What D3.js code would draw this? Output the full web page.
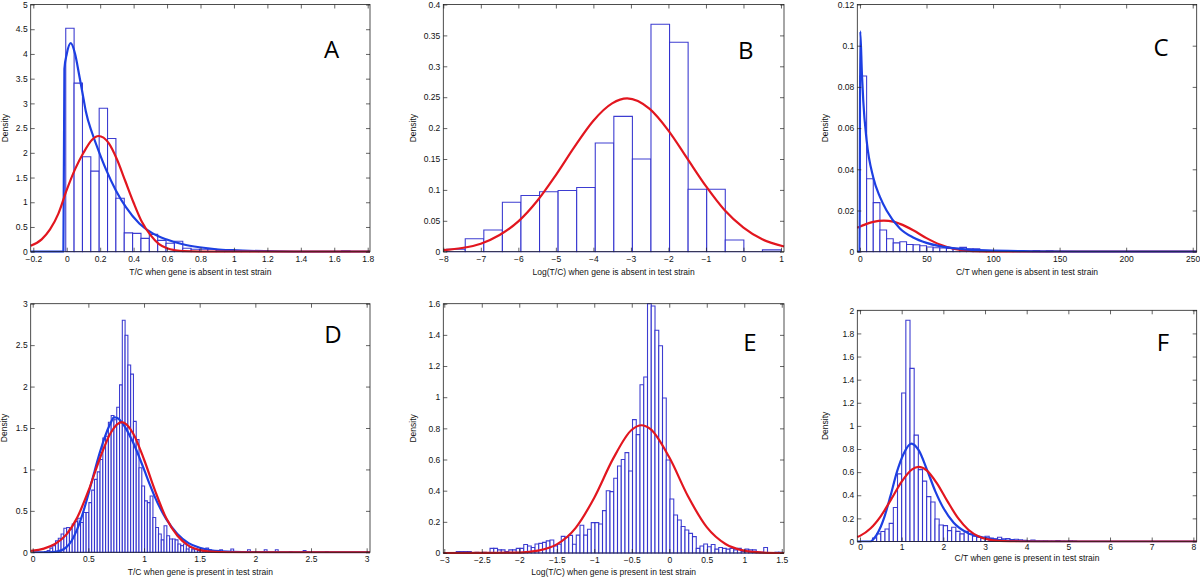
<!DOCTYPE html>
<html lang="en">
<head>
  <meta charset="UTF-8">
  <title>Density histograms with fitted curves</title>
  <script src="https://d3js.org/d3.v7.min.js"></script>
  <style>
    body { margin: 0; background: #fff; }
    svg { display: block; }
    .tick-label, .axis-title { font-family: "Liberation Sans", Arial, Helvetica, sans-serif; font-size: 8.5px; fill: #111; }
    .panel-letter { font-family: "Open Sans", "Liberation Sans", sans-serif; font-size: 24px; fill: #000; }
  </style>
</head>
<body>
  <div id="chart"></div>
  <script>
    // ---- Panel A: T/C, gene absent ----
    const aTicksX = [-0.2, 0, 0.2, 0.4, 0.6, 0.8, 1, 1.2, 1.4, 1.6, 1.8];
    const aTicksY = [0, 0.5, 1, 1.5, 2, 2.5, 3, 3.5, 4, 4.5, 5];
    const aBinStart = -0.006, aBinWidth = 0.05;
    const aHeights = [4.52, 3.41, 1.92, 1.63, 2.90, 2.29, 1.08, 0.38, 0.37, 0.27,
                      0.35, 0.23, 0.17, 0.21, 0.07, 0.05, 0.05, 0.05, 0.02, 0.01,
                      0.01, 0.01, 0.005, 0, 0, 0, 0, 0, 0, 0,
                      0, 0, 0, 0.02];
    const aBlueFit = [[-0.2156, 0], [-0.02, 0], [-0.014, 3.7], [0, 4.0], [0.024, 4.22], [0.05, 4.0],
                      [0.074, 3.58], [0.1, 3.1], [0.114, 2.84], [0.154, 2.38], [0.194, 2.01], [0.234, 1.67],
                      [0.294, 1.24], [0.354, 0.9], [0.434, 0.57], [0.514, 0.37], [0.594, 0.25], [0.694, 0.15],
                      [0.794, 0.09], [0.894, 0.05], [0.994, 0.03], [1.194, 0.01], [1.4, 0.002], [1.8138, 0]];
    const aRedFit = [[-0.2156, 0.12], [-0.15, 0.25], [-0.1, 0.45], [-0.05, 0.77], [0, 1.25], [0.05, 1.67],
                     [0.1, 2.0], [0.15, 2.26], [0.19, 2.34], [0.25, 2.2], [0.3, 1.87], [0.35, 1.43],
                     [0.4, 0.99], [0.45, 0.6], [0.5, 0.34], [0.55, 0.16], [0.6, 0.07], [0.65, 0.03],
                     [0.7, 0.01], [0.8, 0], [1.8138, 0]];

    // ---- Panel B: Log(T/C), gene absent ----
    const bTicksX = [-8, -7, -6, -5, -4, -3, -2, -1, 0, 1];
    const bTicksY = [0, 0.05, 0.1, 0.15, 0.2, 0.25, 0.3, 0.35, 0.4];
    const bBinStart = -7.91, bBinWidth = 0.495;
    const bHeights = [0.004, 0.021, 0.035, 0.080, 0.091, 0.097, 0.099, 0.104, 0.176, 0.219,
                      0.150, 0.368, 0.339, 0.101, 0.101, 0.019, 0, 0.003];
    const bRedFit = [[-8, 0.0025], [-7.5, 0.006], [-7, 0.013], [-6.5, 0.027], [-6, 0.049], [-5.5, 0.082],
                     [-5, 0.124], [-4.5, 0.17], [-4, 0.212], [-3.5, 0.24], [-3.1, 0.248], [-2.5, 0.231],
                     [-2, 0.196], [-1.5, 0.151], [-1, 0.106], [-0.5, 0.067], [0, 0.039], [0.5, 0.02], [1.08, 0.0085]];

    // ---- Panel C: C/T, gene absent ----
    const cTicksX = [0, 50, 100, 150, 200, 250];
    const cTicksY = [0, 0.02, 0.04, 0.06, 0.08, 0.1, 0.12];
    const cBinStart = 0, cBinWidth = 5;
    const cHeights = [0.0853, 0.0354, 0.0238, 0.0105, 0.0063, 0.0043, 0.0048, 0.0035, 0.0034, 0.0029,
                      0.0023, 0.0019, 0.0018, 0.0016, 0.0014, 0.0021, 0.0014, 0.0014, 0.0003, 0.0002,
                      0.0001, 0, 0.0001, 0.0004, 0, 0, 0.0006, 0, 0.0004];
    const cBlueFit = [[-2, 0], [-0.3, 0], [0.2, 0.107], [1.5, 0.086], [2.5, 0.073], [5, 0.054], [10, 0.036],
                      [15, 0.0266], [20, 0.020], [30, 0.0113], [40, 0.0069], [50, 0.0043], [60, 0.0027],
                      [75, 0.0014], [95, 0.0006], [130, 0.0002], [170, 0], [253, 0]];
    const cRedFit = [[-2, 0.0116], [5, 0.0135], [10, 0.0145], [18, 0.0151], [25, 0.0146], [30, 0.0135],
                     [40, 0.0104], [50, 0.0066], [60, 0.0035], [70, 0.0015], [80, 0.0005], [90, 0.0001],
                     [100, 0], [253, 0]];

    // ---- Panel D: T/C, gene present ----
    const dTicksX = [0, 0.5, 1, 1.5, 2, 2.5, 3];
    const dTicksY = [0, 0.5, 1, 1.5, 2, 2.5, 3];
    const dBinStart = 0.105, dBinWidth = 0.025;
    const dHeights = [0.01, 0.02, 0.05, 0.08, 0.14, 0.17, 0.22, 0.29, 0.30, 0.28,
                      0.34, 0.37, 0.41, 0.36, 0.48, 0.48, 0.60, 0.75, 0.88, 0.97,
                      1.12, 1.38, 1.40, 1.57, 1.65, 1.60, 1.75, 2.02, 2.80, 2.62,
                      2.26, 2.15, 1.58, 1.36, 1.02, 0.80, 0.62, 0.60, 0.68, 0.42,
                      0.30, 0.22, 0.15, 0.32, 0.20, 0.16, 0.16, 0.15, 0.10, 0.08,
                      0.10, 0.04, 0.06, 0.03, 0.04, 0.02, 0.03, 0.02, 0.05, 0.03,
                      0.01, 0.01, 0, 0.03, 0.01, 0, 0.005, 0.04, 0, 0,
                      0, 0, 0, 0.03, 0, 0, 0, 0, 0, 0.03,
                      0, 0, 0, 0.03, 0, 0, 0, 0, 0.01, 0,
                      0, 0, 0, 0.02, 0, 0, 0, 0, 0, 0,
                      0, 0.01];
    const dBlueFit = [[0, 0], [0.15, 0], [0.2, 0.005], [0.25, 0.02], [0.3, 0.06], [0.35, 0.14], [0.4, 0.28],
                      [0.45, 0.47], [0.5, 0.7], [0.55, 0.95], [0.6, 1.19], [0.65, 1.4], [0.7, 1.56],
                      [0.73, 1.63], [0.76, 1.62], [0.8, 1.57], [0.9, 1.33], [1.0, 1.0], [1.054, 0.81],
                      [1.1, 0.66], [1.2, 0.40], [1.3, 0.22], [1.4, 0.11], [1.5, 0.055], [1.6, 0.025],
                      [1.7, 0.012], [1.8, 0.005], [2.0, 0.001], [2.2, 0], [3.03, 0]];
    const dRedFit = [[-0.018, 0.018], [0, 0.02], [0.1, 0.045], [0.2, 0.1], [0.3, 0.21], [0.4, 0.42],
                     [0.5, 0.74], [0.6, 1.12], [0.7, 1.44], [0.8, 1.57], [0.9, 1.44], [1.0, 1.12],
                     [1.1, 0.74], [1.2, 0.41], [1.3, 0.2], [1.4, 0.08], [1.5, 0.027], [1.6, 0.008],
                     [1.7, 0.002], [1.8, 0], [3.03, 0]];

    // ---- Panel E: Log(T/C), gene present ----
    const eTicksX = [-3, -2.5, -2, -1.5, -1, -0.5, 0, 0.5, 1, 1.5];
    const eTicksY = [0, 0.2, 0.4, 0.6, 0.8, 1, 1.2, 1.4, 1.6];
    const eBinStart = -2.99, eBinWidth = 0.05;
    const eHeights = [0, 0, 0, 0.01, 0.01, 0.01, 0.01, 0, 0.005, 0,
                      0.005, 0, 0.03, 0.03, 0.02, 0.02, 0.01, 0.02, 0.02, 0.03,
                      0.03, 0.055, 0.045, 0.035, 0.058, 0.062, 0.068, 0.078, 0.083, 0.045,
                      0.056, 0.107, 0.10, 0.113, 0.056, 0.115, 0.178, 0.115, 0.152, 0.195,
                      0.195, 0.186, 0.272, 0.40, 0.394, 0.48, 0.558, 0.60, 0.644, 0.526,
                      0.856, 0.76, 1.08, 1.13, 1.60, 1.585, 1.43, 1.33, 0.995, 0.597,
                      0.347, 0.244, 0.212, 0.17, 0.148, 0.126, 0.105, 0.03, 0.045, 0.058,
                      0.04, 0.055, 0.025, 0.035, 0.03, 0.025, 0.03, 0.02, 0.03, 0.01,
                      0.025, 0.02, 0.02, 0.005, 0.005, 0.035, 0, 0, 0.005, 0.005];
    const eRedFit = [[-3.013, 0], [-2.5, 0.0005], [-2, 0.003], [-1.75, 0.015], [-1.5, 0.055], [-1.25, 0.16],
                     [-1, 0.355], [-0.75, 0.604], [-0.5, 0.791], [-0.37, 0.82], [-0.25, 0.795], [0, 0.614],
                     [0.25, 0.364], [0.5, 0.166], [0.75, 0.058], [1, 0.0155], [1.25, 0.003], [1.53, 0]];

    // ---- Panel F: C/T, gene present ----
    const fTicksX = [0, 1, 2, 3, 4, 5, 6, 7, 8];
    const fTicksY = [0, 0.2, 0.4, 0.6, 0.8, 1, 1.2, 1.4, 1.6, 1.8, 2];
    const fBinStart = 0.3, fBinWidth = 0.1;
    const fHeights = [0.03, 0.066, 0.086, 0.108, 0.157, 0.294, 0.585, 1.284, 1.914, 1.498,
                      0.92, 0.622, 0.522, 0.388, 0.342, 0.194, 0.143, 0.137, 0.094, 0.123,
                      0.088, 0.066, 0.088, 0.066, 0.046, 0.037, 0.031, 0.046, 0.03, 0.023,
                      0.037, 0.023, 0.026, 0.017, 0.02, 0.014, 0.01, 0.006, 0.012, 0.004,
                      0.002, 0.003, 0.001, 0.002, 0.008, 0.002, 0.001, 0.006, 0.003, 0];
    const fBlueFit = [[-0.065, 0], [0.25, 0], [0.384, 0.049], [0.5, 0.13], [0.592, 0.22], [0.728, 0.39],
                      [0.888, 0.605], [1.048, 0.76], [1.232, 0.847], [1.408, 0.79], [1.608, 0.62],
                      [1.808, 0.434], [2.008, 0.285], [2.248, 0.163], [2.568, 0.077], [2.968, 0.034],
                      [3.29, 0.014], [3.7, 0.005], [4.3, 0.001], [5, 0], [8.08, 0]];
    const fRedFit = [[-0.065, 0.038], [0, 0.0486], [0.25, 0.112], [0.5, 0.22], [0.75, 0.366], [1.0, 0.518],
                     [1.25, 0.624], [1.41, 0.645], [1.6, 0.616], [1.85, 0.501], [2.1, 0.347], [2.35, 0.204],
                     [2.6, 0.102], [2.85, 0.0435], [3.1, 0.0157], [3.35, 0.0048], [3.6, 0.0012], [4.0, 0], [8.08, 0]];

    const BAR = "#2828cc", BLUE = "#1d3fe2", RED = "#e2161f", AXIS = "#222";

    // box = [left, right, top, bottom] in px; titleDy = gap from axis to x-title baseline
    const panels = [
      { letter: "A", box: [30.7, 370, 4.5, 251.7], xd: [-0.2156, 1.8138], yd: [0, 5], tx: aTicksX, ty: aTicksY,
        hist: [aBinStart, aBinWidth, aHeights], fits: [[aBlueFit, BLUE], [aRedFit, RED]], titleDy: 23, pad: 4,
        xTitle: "T/C when gene is absent in test strain", densX: 5, letterPos: [331.7, 58.3] },
      { letter: "B", box: [443.3, 784, 4.5, 251.7], xd: [-8, 1.08], yd: [0, 0.4], tx: bTicksX, ty: bTicksY,
        hist: [bBinStart, bBinWidth, bHeights], fits: [[bRedFit, RED]], titleDy: 23, pad: 4,
        xTitle: "Log(T/C) when gene is absent in test strain", densX: 413.3, letterPos: [745.8, 59.3] },
      { letter: "C", box: [857.3, 1196.7, 4.5, 251.7], xd: [-2, 253], yd: [0, 0.12], tx: cTicksX, ty: cTicksY,
        hist: [cBinStart, cBinWidth, cHeights], fits: [[cRedFit, RED], [cBlueFit, BLUE]], titleDy: 23, pad: 4,
        xTitle: "C/T when gene is absent in test strain", densX: 825, letterPos: [1161, 56] },
      { letter: "D", box: [30.7, 370, 303.7, 552.3], xd: [-0.018, 3.03], yd: [0, 3], tx: dTicksX, ty: dTicksY,
        hist: [dBinStart, dBinWidth, dHeights], fits: [[dBlueFit, BLUE], [dRedFit, RED]], titleDy: 22.5, pad: 4,
        xTitle: "T/C when gene is present in test strain", densX: 4, letterPos: [333, 343] },
      { letter: "E", box: [443.3, 784, 303.7, 553], xd: [-3.013, 1.53], yd: [0, 1.6], tx: eTicksX, ty: eTicksY,
        hist: [eBinStart, eBinWidth, eHeights], fits: [[eRedFit, RED]], titleDy: 22, pad: 4,
        xTitle: "Log(T/C) when gene is present in test strain", densX: 413.3, letterPos: [750, 350.7] },
      { letter: "F", box: [857.3, 1196.7, 310.3, 541.5], xd: [-0.065, 8.08], yd: [0, 2], tx: fTicksX, ty: fTicksY,
        hist: [fBinStart, fBinWidth, fHeights], fits: [[fBlueFit, BLUE], [fRedFit, RED]], titleDy: 19.5, pad: 2.5,
        xTitle: "C/T when gene is present in test strain", densX: 825, letterPos: [1163, 350.7] }
    ];

    const fmt = d => d < 0 ? "\u2212" + Math.abs(d) : String(d);

    const svg = d3.select("#chart").append("svg")
      .attr("width", 1200)
      .attr("height", 577);

    panels.forEach((p, pi) => {
      const [left, right, top, bottom] = p.box;
      const x = d3.scaleLinear().domain(p.xd).range([left, right]);
      const y = d3.scaleLinear().domain(p.yd).range([bottom, top]);
      const g = svg.append("g");

      // clip marks to the axes box (a bit of slack so lines on the edge stay visible)
      const clipId = "clip" + pi;
      svg.append("clipPath").attr("id", clipId)
        .append("rect")
        .attr("x", left - 1).attr("y", top - 1)
        .attr("width", right - left + 2).attr("height", bottom - top + 2);
      const plot = g.append("g").attr("clip-path", `url(#${clipId})`);

      // histogram bars, white face with blue edge
      const [start, w, heights] = p.hist;
      plot.selectAll("path.bar")
        .data(heights)
        .join("path")
        .attr("class", "bar")
        .attr("d", (h, i) => {
          const x0 = x(start + i * w), x1 = x(start + (i + 1) * w);
          return `M${x0},${y(0)}V${y(h)}H${x1}V${y(0)}Z`;
        })
        .attr("fill", "#fff")
        .attr("stroke", BAR)
        .attr("stroke-opacity", 0.9)
        .attr("stroke-width", 1.1);

      // fitted density curves
      const line = d3.line()
        .x(d => x(d[0]))
        .y(d => y(d[1]))
        .curve(d3.curveMonotoneX);
      p.fits.forEach(([pts, color]) => {
        plot.append("path")
          .datum(pts)
          .attr("d", line)
          .attr("fill", "none")
          .attr("stroke", color)
          .attr("stroke-width", 2.2)
          .attr("stroke-linejoin", "round");
      });

      // axes: ticks inside, mirrored on top and right
      const tick = 4;
      g.append("g").attr("transform", `translate(0,${bottom})`)
        .call(d3.axisBottom(x).tickValues(p.tx).tickSize(-tick).tickPadding(p.pad).tickFormat(fmt));
      g.append("g").attr("transform", `translate(0,${top})`)
        .call(d3.axisTop(x).tickValues(p.tx).tickSize(-tick).tickFormat(""));
      g.append("g").attr("transform", `translate(${left},0)`)
        .call(d3.axisLeft(y).tickValues(p.ty).tickSize(-tick).tickPadding(3).tickFormat(fmt));
      g.append("g").attr("transform", `translate(${right},0)`)
        .call(d3.axisRight(y).tickValues(p.ty).tickSize(-tick).tickFormat(""));
      g.selectAll(".domain").remove();
      g.selectAll(".tick line").attr("stroke", AXIS).attr("stroke-width", 0.7);
      g.selectAll(".tick text").attr("class", "tick-label").attr("fill", "#111");
      g.selectAll("text.tick-label").style("font-size", "8.5px").style("font-family", '"Liberation Sans", Arial, sans-serif');

      g.append("rect")
        .attr("x", left).attr("y", top)
        .attr("width", right - left).attr("height", bottom - top)
        .attr("fill", "none")
        .attr("stroke", AXIS)
        .attr("stroke-width", 0.8);

      g.append("text")
        .attr("class", "axis-title")
        .attr("x", (left + right) / 2)
        .attr("y", bottom + p.titleDy)
        .attr("text-anchor", "middle")
        .text(p.xTitle);

      g.append("text")
        .attr("class", "axis-title")
        .attr("transform", `translate(${p.densX},${(top + bottom) / 2}) rotate(-90)`)
        .attr("dy", "0.35em")
        .attr("text-anchor", "middle")
        .text("Density");

      g.append("text")
        .attr("class", "panel-letter")
        .attr("x", p.letterPos[0])
        .attr("y", p.letterPos[1])
        .attr("text-anchor", "middle")
        .text(p.letter);
    });
  </script>
</body>
</html>
